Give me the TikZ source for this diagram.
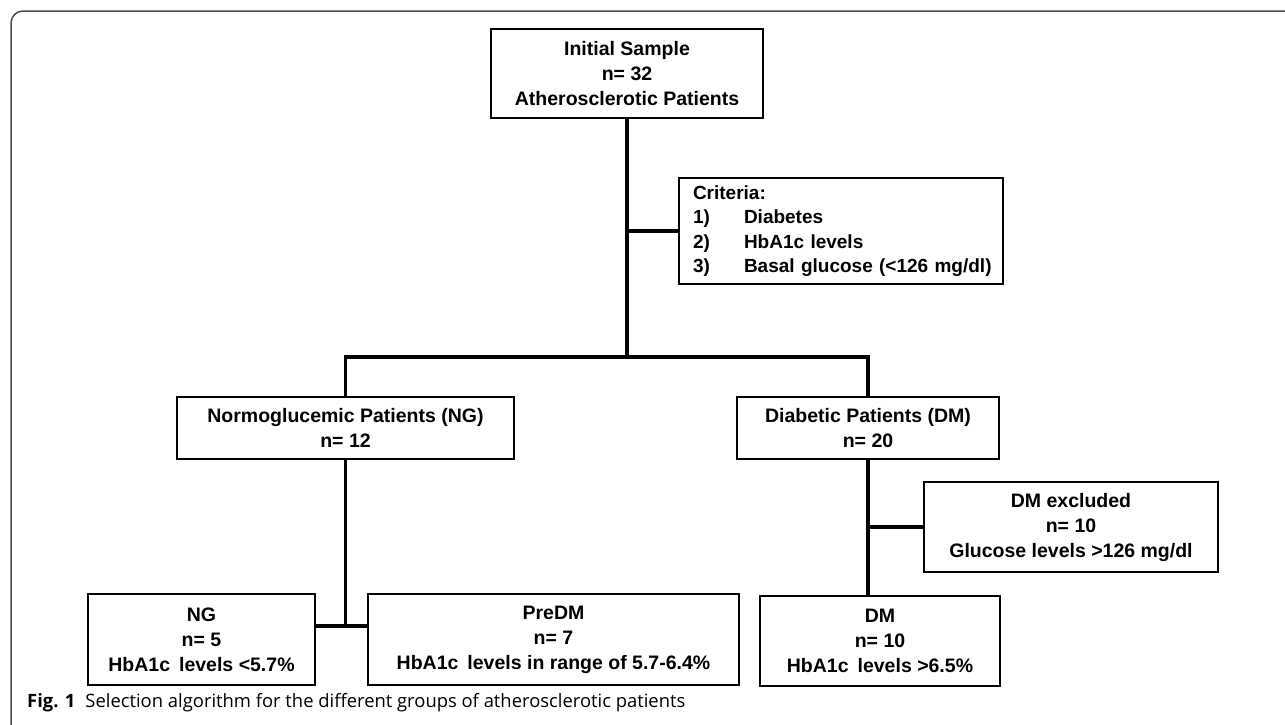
\documentclass[tikz,border=0pt]{standalone}
\usepackage{fontspec}
\setmainfont{Liberation Sans}
\newfontfamily\capfont{Open Sans}
\begin{document}
\begin{tikzpicture}[x=1pt,y=-1pt,
  box/.style={draw, line width=2pt, font=\bfseries\fontsize{19.5}{25}\selectfont, align=center, inner sep=0pt},
  conn/.style={line width=3.6pt, line join=miter},
  frame/.style={draw=black!70, line width=1.5pt}]
\useasboundingbox (0,0) rectangle (1285,724);
\draw[frame, rounded corners=12pt] (1290,11) -- (11,11) -- (11,730);

\node[box, minimum width=272pt, minimum height=89pt] (init) at (627,73.5) {Initial Sample\\n= 32\\Atherosclerotic Patients};
\node[box, font=\bfseries\fontsize{19}{24.5}\selectfont, align=left, text width=314pt, inner xsep=5pt, minimum height=106pt] (crit) at (841,231)
  {\hspace*{9pt}Criteria:\\\hspace*{9pt}\makebox[51pt][l]{1)}Diabetes\\\hspace*{9pt}\makebox[51pt][l]{2)}HbA1c levels\\\hspace*{9pt}\makebox[51pt][l]{3)}Basal glucose (<126 mg/dl)};
\node[box, minimum width=337pt, minimum height=62pt] (ng) at (345.5,428) {Normoglucemic Patients (NG)\\n= 12};
\node[box, minimum width=262pt, minimum height=62pt] (dm) at (868,428) {Diabetic Patients (DM)\\n= 20};
\node[box, minimum width=227pt, minimum height=91pt] (ngp) at (201.5,639.5) {NG\\n= 5\\HbA1c\hspace{9pt}levels <5.7\%};
\node[box, minimum width=371pt, minimum height=91pt] (pre) at (553.5,639.5) {PreDM\\n= 7\\HbA1c\hspace{9pt}levels in range of 5.7-6.4\%};
\node[box, minimum width=294pt, minimum height=90pt] (exc) at (1071,527) {DM excluded\\n= 10\\Glucose levels >126 mg/dl};
\node[box, minimum width=240pt, minimum height=90pt] (dmp) at (880,641) {DM\\n= 10\\HbA1c\hspace{9pt}levels >6.5\%};

\coordinate (j1) at (627,357);
\coordinate (j2) at (347,626);
\draw[conn] (init.south) -- (j1);
\draw[conn] (init.south |- crit.west) -- (crit.west);
\draw[conn] (ng.north) -- (ng.north |- j1) -- (dm.north |- j1) -- (dm.north);
\draw[conn] (ng.south) -- (ng.south |- j2);
\draw[conn] (ngp.east |- j2) -- (pre.west |- j2);
\draw[conn] (dm.south) -- (dm.south |- dmp.north);
\draw[conn] (dm.south |- exc.west) -- (exc.west);

\node[anchor=base west, inner sep=0pt, font=\capfont\fontsize{18.4}{21}\selectfont] (cap) at (27,707)
  {{\bfseries Fig. 1}\hspace{10pt}Selection algorithm for the different groups of atherosclerotic patients};
\end{tikzpicture}
\end{document}
